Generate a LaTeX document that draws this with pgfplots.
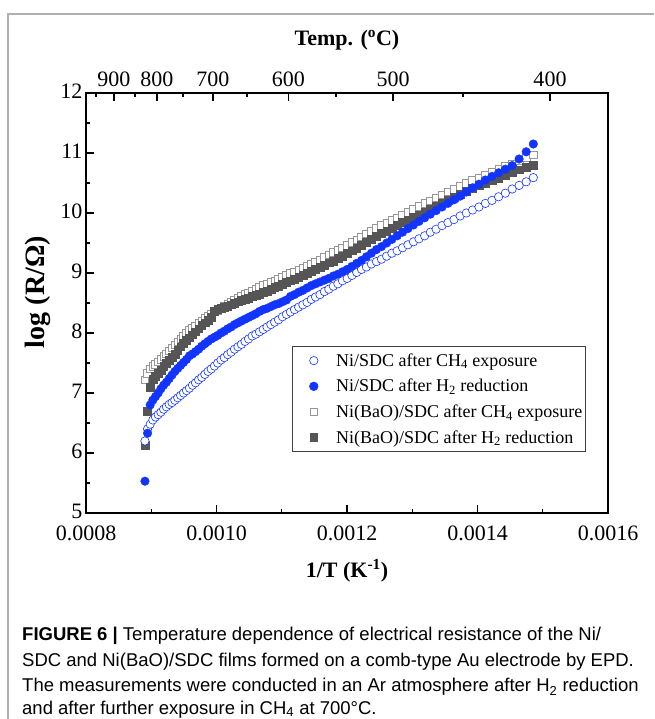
\documentclass[border=0pt]{standalone}
\usepackage{fontspec}
\setmainfont{Liberation Serif}
\newfontfamily\capfont{Liberation Sans}
\usepackage{pgfplots}
\pgfplotsset{compat=1.18}
\usepackage{pgfplotstable}

\definecolor{niblue}{RGB}{18,52,255}
\definecolor{lgray}{RGB}{150,150,150}
\definecolor{dgray}{RGB}{85,85,85}
\definecolor{framegray}{RGB}{175,175,175}

% x = 1/T in units of 1e-3 K^-1; A..D = log(R/Ohm)
\pgfplotstableread{
x A B C D
0.89036 6.20 5.53 7.22 6.13
0.89434 6.40 6.33 7.33 6.69
0.89836 6.48 6.80 7.40 7.09
0.90241 6.55 6.88 7.44 7.23
0.90650 6.60 6.94 7.48 7.28
0.91063 6.64 7.00 7.52 7.33
0.91479 6.68 7.07 7.56 7.38
0.91899 6.73 7.13 7.61 7.44
0.92324 6.77 7.18 7.65 7.49
0.92752 6.81 7.24 7.70 7.54
0.93184 6.84 7.30 7.75 7.60
0.93620 6.88 7.36 7.80 7.65
0.94060 6.92 7.41 7.85 7.71
0.94505 6.96 7.46 7.90 7.77
0.94953 7.00 7.51 7.94 7.83
0.95406 7.04 7.56 7.99 7.88
0.95863 7.08 7.62 8.04 7.92
0.96325 7.13 7.65 8.08 7.97
0.96791 7.17 7.69 8.12 8.02
0.97262 7.22 7.73 8.16 8.07
0.97737 7.26 7.78 8.20 8.13
0.98217 7.31 7.82 8.24 8.17
0.98702 7.36 7.86 8.28 8.21
0.99192 7.40 7.90 8.31 8.26
0.99686 7.45 7.93 8.35 8.36
1.00185 7.50 7.96 8.38 8.39
1.00690 7.55 8.00 8.41 8.41
1.01199 7.59 8.03 8.44 8.43
1.01714 7.64 8.07 8.48 8.45
1.02234 7.68 8.10 8.51 8.47
1.02759 7.73 8.14 8.55 8.50
1.03290 7.77 8.17 8.58 8.52
1.03826 7.81 8.20 8.61 8.54
1.04368 7.86 8.23 8.64 8.56
1.04915 7.90 8.26 8.67 8.58
1.05469 7.95 8.29 8.70 8.61
1.06028 7.98 8.32 8.73 8.63
1.06593 8.02 8.36 8.76 8.65
1.07164 8.06 8.39 8.79 8.68
1.07741 8.10 8.41 8.82 8.70
1.08325 8.14 8.44 8.85 8.73
1.08915 8.18 8.47 8.87 8.76
1.09511 8.22 8.49 8.90 8.78
1.10114 8.27 8.52 8.93 8.81
1.10724 8.31 8.55 8.96 8.84
1.11340 8.35 8.61 8.99 8.87
1.11963 8.39 8.64 9.02 8.90
1.12594 8.43 8.68 9.05 8.93
1.13231 8.47 8.71 9.08 8.96
1.13876 8.51 8.75 9.12 9.00
1.14528 8.56 8.79 9.15 9.03
1.15187 8.60 8.82 9.18 9.06
1.15855 8.64 8.85 9.22 9.10
1.16530 8.69 8.88 9.26 9.13
1.17213 8.73 8.91 9.30 9.17
1.17904 8.78 8.95 9.34 9.20
1.18603 8.82 8.98 9.38 9.24
1.19310 8.87 9.02 9.42 9.28
1.20026 8.91 9.06 9.46 9.33
1.20751 8.96 9.11 9.51 9.37
1.21485 9.01 9.16 9.55 9.41
1.22227 9.06 9.21 9.60 9.46
1.22978 9.10 9.27 9.65 9.51
1.23739 9.15 9.33 9.69 9.56
1.24510 9.19 9.39 9.74 9.61
1.25290 9.23 9.44 9.79 9.66
1.26079 9.28 9.50 9.83 9.70
1.26879 9.33 9.56 9.88 9.75
1.27689 9.37 9.62 9.92 9.79
1.28510 9.42 9.68 9.97 9.84
1.29341 9.47 9.74 10.01 9.88
1.30183 9.52 9.80 10.06 9.93
1.31036 9.57 9.86 10.11 9.97
1.31900 9.62 9.92 10.16 10.02
1.32776 9.68 9.98 10.20 10.07
1.33663 9.73 10.04 10.25 10.12
1.34563 9.79 10.10 10.30 10.17
1.35474 9.84 10.16 10.35 10.21
1.36398 9.89 10.22 10.39 10.26
1.37334 9.95 10.28 10.44 10.31
1.38284 10.00 10.35 10.49 10.36
1.39247 10.05 10.42 10.54 10.41
1.40223 10.10 10.48 10.58 10.46
1.41213 10.16 10.55 10.63 10.50
1.42217 10.21 10.61 10.68 10.54
1.43236 10.27 10.67 10.73 10.58
1.44269 10.33 10.73 10.78 10.63
1.45317 10.40 10.79 10.82 10.67
1.46381 10.46 10.90 10.87 10.72
1.47460 10.52 11.02 10.92 10.76
1.48555 10.59 11.15 10.97 10.80
}\resdata

\pgfplotsset{
  legimg/.style={legend image code/.code={\path (0pt,0pt) (40pt,0pt); \draw[##1] plot coordinates {(20pt,0pt)};}},
  styA/.style={only marks, mark=*, mark size=4.2pt, color=niblue, mark options={fill=white, line width=0.6pt}},
  styB/.style={only marks, mark=*, mark size=4.3pt, color=niblue},
  styC/.style={only marks, mark=square*, mark size=3.8pt, color=lgray, mark options={fill=white, line width=0.6pt}},
  styD/.style={only marks, mark=square*, mark size=3.9pt, color=dgray},
  frame/.style={scale only axis, width=522pt, height=420pt, at={(86pt,206pt)}, anchor=south west,
    xmin=0.8, xmax=1.6, ymin=5, ymax=12,
    tick align=inside, major tick length=8pt, minor tick length=4pt,
    axis line style={line width=1.3pt},
    every tick/.style={black, line width=1.1pt},
    tick label style={font=\fontsize{22}{26}\selectfont},
    label style={font=\fontsize{22}{26}\selectfont\bfseries},
    /pgf/number format/assume math mode=true},
}

\begin{document}
\begin{tikzpicture}[x=1pt,y=1pt]
\useasboundingbox (0,0) rectangle (654,719);
\draw[framegray, line width=1.2pt] (8,0) -- (8,705) -- (654,705);

\begin{axis}[frame,
  xtick={0.8,1.0,1.2,1.4,1.6},
  xticklabels={0.0008,0.0010,0.0012,0.0014,0.0016},
  minor x tick num=1,
  ytick={5,6,...,12}, minor y tick num=1,
  xtick pos=bottom, ytick pos=left,
  xticklabel style={yshift=-9.5pt},
  yticklabel style={yshift=1.5pt},
  xlabel={1/T (K\textsuperscript{-1})},
  ylabel={log (R/Ω)},
  xlabel style={at={(axis description cs:0.5,-0.138)}, anchor=center},
  ylabel style={at={(axis description cs:-0.092,0.526)}, anchor=center, font=\fontsize{28}{32}\selectfont\bfseries},
  legend style={at={(axis description cs:0.395,0.397)}, anchor=north west,
    draw=black!75, line width=0.6pt, font=\fontsize{18}{21}\selectfont,
    row sep=7.5pt, inner xsep=1pt, inner ysep=5pt, cells={anchor=west}},
]
\addlegendimage{styA, legimg}
\addlegendentry{Ni/SDC after CH\textsubscript{4} exposure}
\addlegendimage{styB, legimg}
\addlegendentry{Ni/SDC after H\textsubscript{2} reduction}
\addlegendimage{styC, legimg}
\addlegendentry{Ni(BaO)/SDC after CH\textsubscript{4} exposure}
\addlegendimage{styD, legimg}
\addlegendentry{Ni(BaO)/SDC after H\textsubscript{2} reduction}

\addplot[styC, forget plot] table[x=x, y=C] {\resdata};
\addplot[styD, forget plot] table[x=x, y=D] {\resdata};
\addplot[styA, forget plot] table[x=x, y=A] {\resdata};
\addplot[styB, forget plot] table[x=x, y=B] {\resdata};
\end{axis}

\begin{axis}[frame,
  hide y axis,
  xtick pos=top, xticklabel pos=top,
  xticklabel style={yshift=3pt},
  xtick={0.8429,0.9088,0.9946,1.1103,1.2705,1.5111},
  xticklabels={900,800,700,600,500,400},
  minor xtick={0.8153,0.8751,0.9487,1.0467,1.1831,1.3778},
  xlabel={Temp. (\textsuperscript{o}C)},
  xlabel style={at={(axis description cs:0.5,1.126)}, anchor=center},
]
\end{axis}

\begin{scope}
\capfont\fontsize{18.5}{22}\selectfont
\node[anchor=base west, inner sep=0pt] at (22,78) {\textbf{FIGURE 6 |} Temperature dependence of electrical resistance of the Ni/};
\node[anchor=base west, inner sep=0pt] at (22,52) {SDC and Ni(BaO)/SDC films formed on a comb-type Au electrode by EPD.};
\node[anchor=base west, inner sep=0pt] at (22,27) {The measurements were conducted in an Ar atmosphere after H\textsubscript{2} reduction};
\node[anchor=base west, inner sep=0pt] at (22,5) {and after further exposure in CH\textsubscript{4} at 700\textdegree C.};
\end{scope}
\end{tikzpicture}
\end{document}
